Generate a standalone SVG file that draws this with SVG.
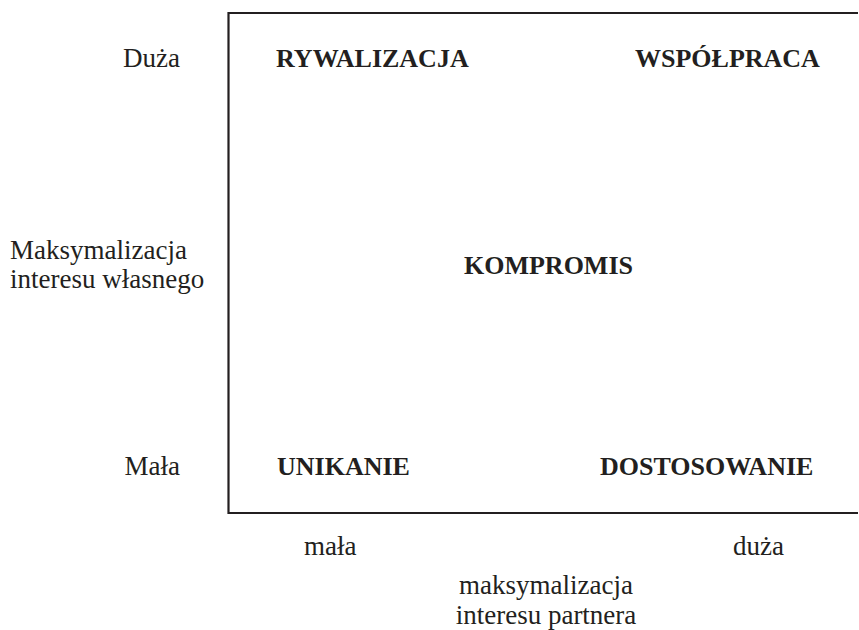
<svg xmlns="http://www.w3.org/2000/svg" width="859" height="630" viewBox="0 0 859 630">
<style>
.t{font-family:"Liberation Serif","Times New Roman",serif;fill:#231f20}
.r{font-size:27px}
.b{font-size:26px;font-weight:bold}
.frame{fill:none;stroke:#231f20;stroke-width:2.2}
</style>
<rect width="859" height="630" fill="#fff"/>
<g id="frame"><path class="frame" d="M858 13 H228.5 V513 H858"/></g>
<g id="rywalizacja"><text class="t b" x="276" y="67">RYWALIZACJA</text></g>
<g id="wspolpraca"><text class="t b" x="635" y="67">WSPÓŁPRACA</text></g>
<g id="kompromis"><text class="t b" x="464" y="274">KOMPROMIS</text></g>
<g id="unikanie"><text class="t b" x="277" y="475">UNIKANIE</text></g>
<g id="dostosowanie"><text class="t b" x="600" y="475">DOSTOSOWANIE</text></g>
<g id="y-axis">
<text class="t r" x="180" y="67" text-anchor="end">Duża</text>
<text class="t r" x="10" y="259">Maksymalizacja</text>
<text class="t r" x="10" y="288">interesu własnego</text>
<text class="t r" x="180" y="475" text-anchor="end">Mała</text>
</g>
<g id="x-axis">
<text class="t r" x="304" y="555">mała</text>
<text class="t r" x="733" y="555">duża</text>
<text class="t r" x="546" y="594" text-anchor="middle">maksymalizacja</text>
<text class="t r" x="546" y="624" text-anchor="middle">interesu partnera</text>
</g>
</svg>
